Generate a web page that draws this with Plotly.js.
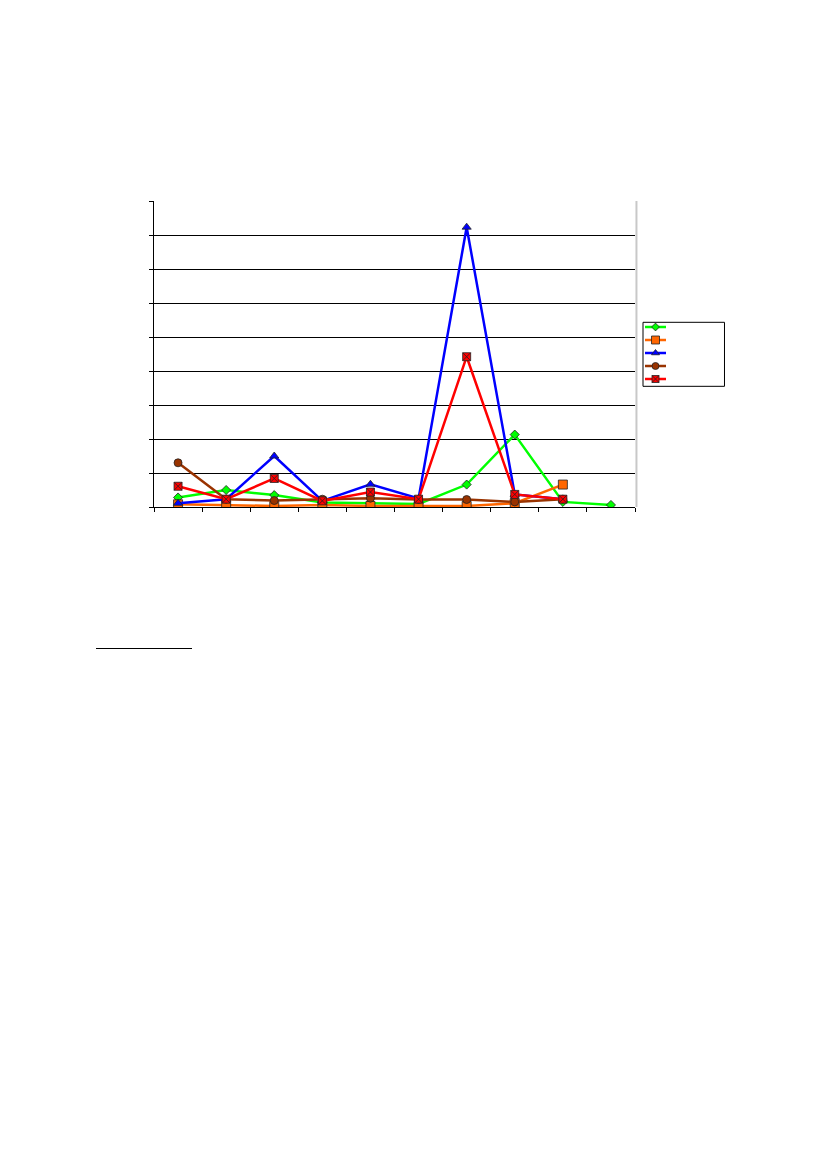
<!DOCTYPE html>
<html>
<head>
<meta charset="utf-8">
<script src="https://cdn.plot.ly/plotly-3.0.1.min.js"></script>
<style>
  html, body { margin: 0; padding: 0; background: #fff; }
  #chart { position: absolute; left: 0; top: 0; width: 827px; height: 1169px; }
  #footrule { position: absolute; left: 96px; top: 648px; width: 96px; border-top: 1px solid #000; }
</style>
</head>
<body>
<div id="chart"></div>
<div id="footrule"></div>
<script>
// categories along the x axis (no labels shown in the picture)
var categories = [1, 2, 3, 4, 5, 6, 7, 8, 9, 10];

var greenVals  = [0.28, 0.50, 0.35, 0.13, 0.11, 0.09, 0.66, 2.13, 0.15, 0.06];
var orangeVals = [0.08, 0.05, 0.03, 0.06, 0.03, 0.03, 0.03, 0.11, 0.66, null];
var blueVals   = [0.11, 0.23, 1.50, 0.18, 0.67, 0.25, 8.23, 0.37, 0.23, null];
var brownVals  = [1.30, 0.23, 0.19, 0.23, 0.26, 0.22, 0.22, 0.15, 0.23, null];
var redVals    = [0.61, 0.23, 0.84, 0.18, 0.44, 0.23, 4.42, 0.37, 0.23, null];

var seriesColors = ['#00ff00', '#ff6600', '#0000ff', '#993300', '#ff0000'];
var seriesSymbols = ['diamond', 'square', 'triangle-up', 'circle', 'square-x'];
var seriesSizes = [7, 9, 8, 8, 8];
var seriesVals = [greenVals, orangeVals, blueVals, brownVals, redVals];

var data = [];
for (var i = 0; i < seriesVals.length; i++) {
  data.push({
    x: categories,
    y: seriesVals[i],
    mode: 'lines+markers',
    line: { color: seriesColors[i], width: 2.5 },
    marker: {
      symbol: seriesSymbols[i],
      color: seriesColors[i],
      size: seriesSizes[i],
      line: { color: '#222', width: 0.8 }
    },
    showlegend: false
  });
}

// legend keys (the legend has no text), drawn on a small axis pair of their own
for (var i = 0; i < seriesVals.length; i++) {
  data.push({
    x: [0, 0.5, 1],
    y: [i, i, i],
    xaxis: 'x2', yaxis: 'y2',
    mode: 'lines+markers',
    line: { color: seriesColors[i], width: 2.5 },
    marker: {
      symbol: seriesSymbols[i],
      color: seriesColors[i],
      size: seriesSizes[i] - 1,
      opacity: [0, 1, 0],
      line: { color: '#222', width: 0.8 }
    },
    showlegend: false
  });
}

// category boundaries for the x tick marks
var boundaries = categories.map(function (c) { return c - 0.5 }).concat([categories.length + 0.5]);

var layout = {
  width: 827,
  height: 1169,
  paper_bgcolor: '#fff',
  plot_bgcolor: 'rgba(0,0,0,0)',
  margin: { l: 154, r: 102, t: 201, b: 662 },
  showlegend: false,
  xaxis: {
    domain: [0, 0.8424],
    range: [0.5, 10.5],
    tickmode: 'array', tickvals: boundaries,
    ticks: 'outside', ticklen: 4, tickcolor: '#000',
    showticklabels: false, showgrid: false, zeroline: false,
    showline: true, linecolor: '#000', linewidth: 1
  },
  yaxis: {
    range: [0, 9], dtick: 1,
    ticks: 'outside', ticklen: 4, tickcolor: '#000',
    showticklabels: false, showgrid: true, gridcolor: '#000', gridwidth: 1,
    zeroline: false, showline: true, linecolor: '#000', linewidth: 1
  },
  xaxis2: {
    domain: [0.8599, 0.8967], range: [0, 1], anchor: 'y2',
    visible: false, fixedrange: true
  },
  yaxis2: {
    domain: [0.397, 0.6095], range: [4.5, -0.5], anchor: 'x2',
    visible: false, fixedrange: true
  },
  shapes: [
    { type: 'line', xref: 'x domain', yref: 'y domain', x0: 1.003, x1: 1.003, y0: 0, y1: 1,
      line: { color: '#c8c8c8', width: 2 }, layer: 'below' },
    { type: 'rect', xref: 'paper', yref: 'paper', x0: 0.8564, x1: 0.9991, y0: 0.3944, y1: 0.6036,
      line: { color: '#000', width: 1 }, fillcolor: '#fff', layer: 'below' }
  ]
};

Plotly.newPlot('chart', data, layout, { displayModeBar: false, staticPlot: true });
</script>
</body>
</html>
